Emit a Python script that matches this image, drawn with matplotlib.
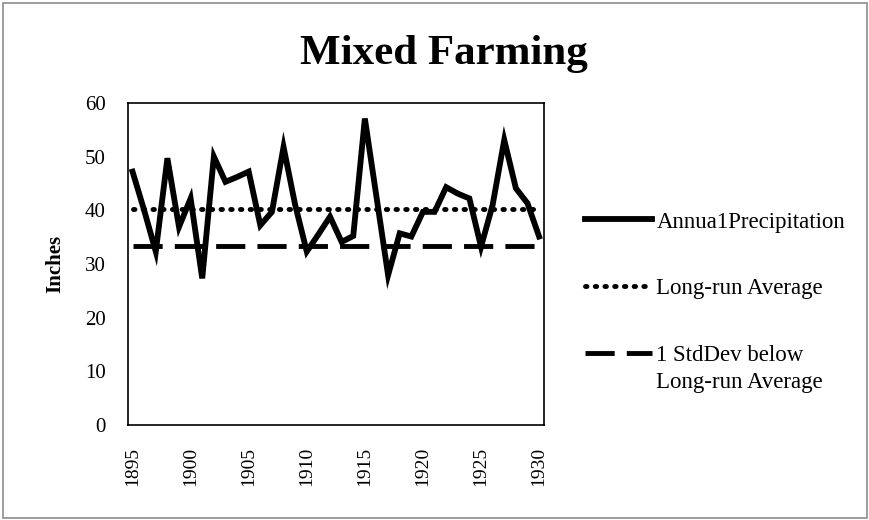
import matplotlib.pyplot as plt
from matplotlib.patches import Rectangle

plt.rcParams['font.family'] = ['Liberation Serif', 'DejaVu Serif']

# annual precipitation, inches
years = list(range(1895, 1931))
precip = [47.2, 40.0, 32.3, 49.7, 36.9, 42.2, 27.3, 50.0, 45.3, 46.2,
          47.2, 37.2, 39.7, 51.8, 41.0, 32.3, 35.5, 38.8, 34.1, 35.2,
          57.1, 42.5, 27.9, 35.7, 35.1, 39.7, 39.7, 44.3, 43.1, 42.2,
          33.2, 41.0, 53.1, 44.1, 41.3, 35.1]
long_run_avg = 40.3
one_sd_below = 33.4

fig = plt.figure(figsize=(8.7, 5.2), dpi=100)
ax = fig.add_axes([0.147, 0.183, 0.478, 0.619])

ax.plot(years, precip, color='black', lw=4.2, solid_joinstyle='miter',
        label='Annua1Precipitation')
ax.plot(years, [long_run_avg] * len(years), color='black', lw=3.5,
        linestyle=(0, (0.3, 1.7)), dash_capstyle='round', label='Long-run Average')
ax.plot(years, [one_sd_below] * len(years), color='black', lw=3.5,
        linestyle=(0, (6, 2.5)), label='1 StdDev below')

ax.set_xlim(1894.6, 1930.4)
ax.set_ylim(0, 60)
ax.set_yticks(range(0, 61, 10))
ax.set_xticks(range(1895, 1931, 5))
ax.tick_params(axis='y', length=0, labelsize=15, pad=16)
ax.tick_params(axis='x', length=0, labelsize=14, pad=16, labelrotation=90)
for s in ax.spines.values():
    s.set_linewidth(1.2)

ax.set_ylabel('Inches', fontsize=15, fontweight='bold', labelpad=14)
fig.text(0.51, 0.897, 'Mixed Farming', ha='center', va='center',
         fontsize=31, fontweight='bold')

leg = fig.legend(loc='upper left', bbox_to_anchor=(0.649, 0.633), frameon=False,
                 fontsize=16.5, handlelength=2.9, handletextpad=0.2, labelspacing=2.0)

# second line of the last legend entry, set under its first line
fig.canvas.draw()
bb = leg.get_texts()[-1].get_window_extent().transformed(fig.transFigure.inverted())
fig.text(bb.x0, bb.y0 - 0.012, 'Long-run Average', ha='left', va='top',
         fontsize=16.5)

# thin gray border round the whole chart
fig.add_artist(Rectangle((0.003, 0.004), 0.994, 0.99, transform=fig.transFigure,
                         fill=False, edgecolor='#8c8c8c', lw=1.2))

fig.savefig('out.png', dpi=100)
